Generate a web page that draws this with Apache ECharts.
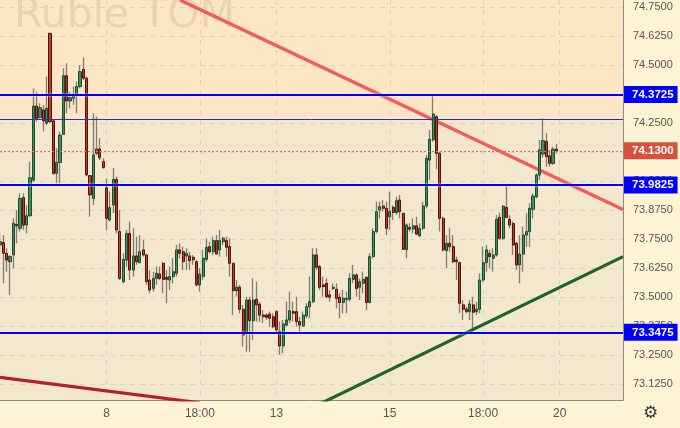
<!DOCTYPE html>
<html><head><meta charset="utf-8">
<script src="https://cdn.jsdelivr.net/npm/echarts@6/dist/echarts.min.js"></script>
<style>html,body{margin:0;padding:0;background:#fef4d4}#c{width:680px;height:428px}</style>
</head><body><div id="c"></div>
<script>
// ---- data ----
const openV = [73.724,73.735,73.688,73.652,73.681,73.813,73.796,73.928,73.810,73.850,
74.004,74.323,74.273,74.306,74.249,74.636,74.259,74.033,74.080,74.201,
74.454,74.345,74.356,74.371,74.407,74.481,74.443,74.023,73.925,74.119,
74.138,74.083,73.971,73.832,73.897,74.007,73.782,73.566,73.659,73.774,
73.616,73.677,73.648,73.703,73.681,73.573,73.537,73.580,73.599,73.645,
73.585,73.573,73.588,73.602,73.703,73.695,73.677,73.677,73.671,73.652,
73.552,73.588,73.662,73.717,73.695,73.743,73.703,73.738,73.743,73.717,
73.645,73.527,73.542,73.447,73.346,73.487,73.398,73.490,73.469,73.422,
73.422,73.426,73.415,73.437,73.351,73.289,73.379,73.401,73.437,73.437,
73.394,73.375,73.418,73.458,73.480,73.681,73.631,73.552,73.559,73.509,
73.537,73.533,73.499,73.476,73.490,73.490,73.576,73.595,73.542,73.559,
73.585,73.476,73.674,73.782,73.875,73.892,73.882,73.846,73.886,73.864,
73.918,73.861,73.705,73.800,73.793,73.807,73.763,73.796,73.892,74.090,
74.177,74.277,74.119,73.839,73.700,73.731,73.717,73.659,73.648,73.466,
73.447,73.437,73.466,73.437,73.447,73.573,73.648,73.688,73.667,73.681,
73.843,73.753,73.886,73.835,73.817,73.731,73.638,73.685,73.767,73.782,
73.878,73.932,74.026,74.116,74.170,74.108,74.076,74.137];
const highV = [73.781,73.767,73.710,73.681,73.839,73.875,73.947,73.947,73.896,74.083,
74.399,74.385,74.335,74.328,74.450,74.640,74.263,74.141,74.213,74.486,
74.507,74.385,74.407,74.428,74.500,74.532,74.450,74.026,74.292,74.277,
74.184,74.098,74.011,73.954,74.056,74.019,73.875,73.688,73.789,73.825,
73.796,73.760,73.767,73.746,73.685,73.616,73.609,73.631,73.631,73.652,
73.616,73.631,73.667,73.724,73.731,73.717,73.710,73.695,73.681,73.659,
73.624,73.703,73.753,73.738,73.760,73.767,73.789,73.760,73.760,73.753,
73.645,73.573,73.552,73.466,73.501,73.501,73.580,73.566,73.480,73.444,
73.430,73.437,73.430,73.444,73.394,73.401,73.480,73.523,73.480,73.501,
73.415,73.437,73.473,73.588,73.710,73.710,73.638,73.588,73.580,73.530,
73.559,73.559,73.516,73.530,73.523,73.602,73.638,73.602,73.580,73.609,
73.588,73.688,73.796,73.911,73.911,73.918,73.911,73.954,73.896,73.932,
73.940,73.861,73.818,73.818,73.839,73.846,73.818,73.911,74.112,74.220,
74.375,74.284,74.126,73.846,73.767,73.796,73.767,73.674,73.652,73.487,
73.458,73.487,73.501,73.480,73.602,73.717,73.724,73.703,73.710,73.853,
73.864,73.896,73.983,73.853,73.825,73.738,73.767,73.803,73.861,73.904,
73.947,74.033,74.177,74.270,74.205,74.134,74.148,74.160];
const lowV = [73.681,73.559,73.609,73.509,73.624,73.731,73.782,73.789,73.774,73.846,
73.997,74.256,74.270,74.213,74.241,74.249,74.026,73.990,73.990,74.198,
74.292,74.313,74.328,74.292,74.399,74.435,74.020,73.846,73.896,74.112,
74.090,74.054,73.789,73.825,73.862,73.774,73.573,73.559,73.631,73.573,
73.588,73.638,73.645,73.674,73.552,73.516,73.523,73.552,73.573,73.516,
73.473,73.530,73.559,73.588,73.667,73.616,73.616,73.616,73.638,73.545,
73.523,73.573,73.652,73.688,73.681,73.685,73.674,73.724,73.674,73.588,
73.422,73.501,73.430,73.286,73.264,73.264,73.315,73.394,73.394,73.387,
73.401,73.372,73.365,73.343,73.250,73.257,73.372,73.387,73.394,73.372,
73.343,73.372,73.408,73.408,73.473,73.616,73.530,73.501,73.494,73.480,
73.530,73.451,73.408,73.430,73.430,73.480,73.559,73.501,73.487,73.516,
73.444,73.473,73.667,73.774,73.839,73.868,73.767,73.789,73.832,73.853,
73.839,73.703,73.667,73.782,73.774,73.767,73.760,73.789,73.882,74.004,
74.170,74.050,73.782,73.695,73.624,73.695,73.645,73.573,73.430,73.401,
73.430,73.401,73.358,73.422,73.430,73.566,73.609,73.623,73.609,73.674,
73.746,73.746,73.839,73.796,73.681,73.616,73.559,73.609,73.717,73.717,
73.839,73.925,74.004,74.100,74.062,74.062,74.069,74.119];
const closeV = [73.738,73.688,73.659,73.674,73.818,73.807,73.925,73.810,73.850,74.014,
74.323,74.270,74.316,74.259,74.313,74.256,74.033,74.080,74.198,74.454,
74.345,74.359,74.373,74.407,74.471,74.443,74.026,73.940,74.112,74.138,
74.100,74.057,73.839,73.885,74.007,73.789,73.580,73.662,73.774,73.616,
73.677,73.652,73.695,73.681,73.566,73.530,73.580,73.602,73.580,73.576,
73.576,73.588,73.609,73.703,73.688,73.652,73.688,73.657,73.660,73.552,
73.599,73.667,73.714,73.695,73.743,73.685,73.743,73.753,73.714,73.645,
73.527,73.542,73.447,73.336,73.487,73.398,73.487,73.466,73.422,73.415,
73.412,73.408,73.372,73.358,73.289,73.384,73.401,73.441,73.430,73.394,
73.379,73.422,73.458,73.480,73.681,73.628,73.542,73.545,73.501,73.499,
73.542,73.494,73.476,73.494,73.494,73.580,73.595,73.537,73.566,73.576,
73.476,73.674,73.782,73.868,73.889,73.882,73.796,73.868,73.864,73.915,
73.868,73.705,73.810,73.792,73.807,73.771,73.796,73.892,74.098,74.180,
74.289,74.119,73.839,73.703,73.731,73.717,73.652,73.652,73.473,73.447,
73.437,73.470,73.434,73.447,73.573,73.648,73.703,73.674,73.681,73.835,
73.753,73.892,73.843,73.810,73.724,73.638,73.685,73.767,73.782,73.882,
73.935,74.026,74.134,74.174,74.105,74.076,74.137,74.130];

const categoryCount = 188;
const tickIndex = [32, 60, 83, 117, 145, 168];
const tickLabels = ['8', '18:00', '13', '15', '18:00', '20'];
const yTicks = [73.125, 73.25, 73.375, 73.5, 73.625, 73.75, 73.875, 74.0, 74.125, 74.25, 74.375, 74.5, 74.625, 74.75];
const yMin = 73.056, yMax = 74.780;

const blueLevels = [74.3725, 73.9825, 73.3475];
const thinLevel = 74.267;
const lastPrice = 74.13;

const redTrendX = [54, 187], redTrendY = [74.78, 73.877];
const greenTrendX = [96, 187], greenTrendY = [73.039, 73.674];
const darkRedX = [0, 60], darkRedY = [73.154, 73.044];

// ---- build chart ----
const cats = Array.from({length: categoryCount}, (_, i) => String(i));
const wickData = openV.map((o, i) => [i, o, closeV[i], lowV[i], highV[i]]);
const bodyData = openV.map((o, i) => [i, o, closeV[i], Math.min(o, closeV[i]), Math.max(o, closeV[i])]);
const isTick = (i) => tickIndex.indexOf(i) >= 0;
const pairs = (xs, ys) => xs.map((x, i) => [x, ys[i]]);
const FONT = 'Liberation Sans';

const tag = (bg, v) => ({
  show: true, position: 'end', distance: 1,
  formatter: () => v.toFixed(4),
  backgroundColor: bg, color: '#fff', fontWeight: 'bold', fontSize: 11.5,
  fontFamily: FONT, padding: [3, 4, 2, 8]
});

const chart = echarts.init(document.getElementById('c'), null, {renderer: 'canvas', width: 680, height: 428});
chart.setOption({
  animation: false,
  backgroundColor: '#fef4d4',
  grid: {left: 0, top: 0, right: 57, bottom: 28, show: true, backgroundColor: '#f3e7cd', borderWidth: 0},
  xAxis: {
    type: 'category', data: cats, boundaryGap: false, z: 2,
    axisLine: {show: true, lineStyle: {color: '#8c8c8c', width: 1}},
    axisTick: {show: false, interval: isTick},
    axisLabel: {interval: isTick, formatter: (v) => { const k = tickIndex.indexOf(Number(v)); return k >= 0 ? tickLabels[k] : ''; },
      color: '#555', fontSize: 12, fontFamily: FONT, margin: 8},
    splitLine: {show: true, interval: isTick, lineStyle: {color: '#d9d3c8', type: [5, 5], width: 1}}
  },
  yAxis: {
    type: 'value', position: 'right', min: yMin, max: yMax, z: 2,
    axisLine: {show: true, lineStyle: {color: '#8c8c8c', width: 1}},
    axisTick: {show: false, customValues: yTicks},
    axisLabel: {customValues: yTicks, formatter: v => Number(v).toFixed(4), color: '#555', fontSize: 11, fontFamily: FONT, margin: 10},
    splitLine: {show: true, lineStyle: {color: '#d9d3c8', type: [5, 5], width: 1}}
  },
  graphic: [
    {type: 'text', left: 14, top: -4, z: 2, silent: true,
      style: {text: 'Ruble TOM', fontSize: 41, fontFamily: 'DejaVu Sans', fill: 'rgba(90,60,20,0.11)'}},
    {type: 'text', left: 643, top: 405, z: 10, silent: true,
      style: {text: '\u2699', fontSize: 17, fontFamily: 'DejaVu Sans', fill: '#333'}}
  ],
  series: [
    {
      type: 'candlestick', name: 'wicks', z: 3, data: wickData, encode: {x: 0, y: [1, 2, 3, 4]},
      barWidth: 1, silent: true,
      itemStyle: {color: '#7a776f', color0: '#7a776f', borderColor: '#7f7c74', borderColor0: '#7f7c74', borderWidth: 1.3},
      markArea: {silent: true, itemStyle: {color: '#fde6c4'}, data: [[{yAxis: thinLevel}, {yAxis: yMax}]]}
    },
    {
      type: 'candlestick', name: 'bodies', z: 4, data: bodyData, encode: {x: 0, y: [1, 2, 3, 4]},
      barWidth: 2.6, silent: true,
      itemStyle: {color: '#3f8f5d', color0: '#c63a29', borderColor: '#1f4a30', borderColor0: '#4d150c', borderWidth: 1},
      markLine: {
        silent: true, symbol: 'none', z: 5, precision: 4,
        data: [
          {yAxis: thinLevel, lineStyle: {color: '#2a2ad8', width: 1, type: 'solid'}, label: {show: false}},
          {yAxis: lastPrice, lineStyle: {color: '#ee6a58', width: 1.2, type: [2, 2]}, label: tag('#d9503f', lastPrice)},
          ...blueLevels.map(v => ({yAxis: v, lineStyle: {color: '#0000ff', width: 2.2, type: 'solid', shadowColor: '#ffffff', shadowBlur: 2}, label: tag('#0000ff', v)}))
        ]
      }
    },
    {type: 'line', name: 'red trend', z: 4, data: pairs(redTrendX, redTrendY), symbol: 'none', silent: true,
      lineStyle: {color: '#f25352', width: 3.4, opacity: 0.95}},
    {type: 'line', name: 'green trend', z: 4, data: pairs(greenTrendX, greenTrendY), symbol: 'none', silent: true,
      lineStyle: {color: '#1f6426', width: 3.2}},
    {type: 'line', name: 'dark red trend', z: 4, data: pairs(darkRedX, darkRedY), symbol: 'none', silent: true,
      lineStyle: {color: '#b0202e', width: 3.2}}
  ]
});
</script></body></html>
